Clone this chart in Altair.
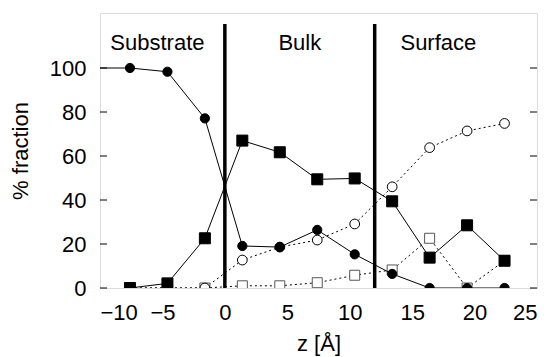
import altair as alt
import pandas as pd

# data
z = [-7.6, -4.6, -1.6, 1.4, 4.4, 7.4, 10.4, 13.4, 16.4, 19.4, 22.4]
filled_circle = [100, 98.3, 77.1, 19.1, 18.6, 26.4, 15.3, 6.4, 0, 0, 0]
filled_square = [0, 2.1, 22.6, 67.0, 61.7, 49.4, 49.8, 39.4, 13.8, 28.5, 12.4]
open_circle = [0, 0, 0, 12.7, 18.6, 21.8, 29.1, 46.0, 63.8, 71.4, 74.8]
open_square = [0, 0, 0, 1.0, 1.0, 2.4, 5.8, 8.2, 22.6, 0, 12.4]
# the filled-circle curve enters from beyond the left edge
z_lead = [-10.6]
filled_circle_lead = [100]

boundaries = [0, 12]
boundary_top = 120
region_names = ["Substrate", "Bulk", "Surface"]
region_z = [-5.4, 6.0, 17.1]
region_y = [111.5, 111.5, 111.5]

y_ticks = [0, 20, 40, 60, 80, 100]
x_ticks = [-10, -5, 0, 5, 10, 15, 20, 25]

W, H = 437, 275
FONT = "Liberation Sans"

xs = alt.Scale(domain=[-10, 25], nice=False, zero=False)
ys = alt.Scale(domain=[0, 125], nice=False)

def frame(vals, zz):
    return pd.DataFrame({"z": zz, "v": vals})

df_fc = pd.DataFrame({"z": z_lead + z, "v": filled_circle_lead + filled_circle})
df_fc_pts = frame(filled_circle, z)
df_fs = frame(filled_square, z)
df_oc = frame(open_circle, z)
df_os = frame(open_square, z)

X = alt.X("z:Q", scale=xs, axis=alt.Axis(values=x_ticks, title="z [Å]", grid=False, ticks=False,
                                       domain=False, labelFont=FONT, labelFontSize=22, labelColor="black",
                                       labelPadding=14, titleFont=FONT, titleFontSize=22,
                                       titleFontWeight="normal", titleColor="black",
                                       titleY=55, titleBaseline="middle"))
Y = alt.Y("v:Q", scale=ys, axis=alt.Axis(values=y_ticks, title="% fraction", grid=False, ticks=False,
                                       domain=False, labelFont=FONT, labelFontSize=22, labelColor="black",
                                       labelPadding=14, titleFont=FONT, titleFontSize=22,
                                       titleFontWeight="normal", titleColor="black",
                                       titleX=-80, titleBaseline="middle"))

def line(df, dash=None):
    kw = dict(color="black", strokeWidth=1, clip=True)
    if dash:
        kw["strokeDash"] = dash
    return alt.Chart(df).mark_line(**kw).encode(x=X, y=Y)

def pts(df, shape, filled, size, stroke="black"):
    return alt.Chart(df).mark_point(shape=shape, filled=filled, size=size, opacity=1,
                                    fill="black" if filled else "white",
                                    stroke=stroke, strokeWidth=1, clip=True).encode(x=X, y=Y)

ytick_df = pd.DataFrame({"v": y_ticks})
ticks_left = alt.Chart(ytick_df).mark_rule(color="black", strokeWidth=1).encode(
    y=alt.Y("v:Q", scale=ys), x=alt.value(0), x2=alt.value(7))
ticks_right = alt.Chart(ytick_df).mark_rule(color="black", strokeWidth=1).encode(
    y=alt.Y("v:Q", scale=ys), x=alt.value(W - 7), x2=alt.value(W))

bdf = pd.DataFrame({"z": boundaries, "top": [boundary_top] * len(boundaries), "bot": [0] * len(boundaries)})
bounds = alt.Chart(bdf).mark_rule(color="black", strokeWidth=3.5).encode(
    x=alt.X("z:Q", scale=xs), y=alt.Y("bot:Q", scale=ys), y2="top:Q")

ldf = pd.DataFrame({"z": region_z, "v": region_y, "name": region_names})
labels = alt.Chart(ldf).mark_text(font=FONT, fontSize=22, color="black", align="center",
                                  baseline="middle").encode(
    x=alt.X("z:Q", scale=xs), y=alt.Y("v:Q", scale=ys), text="name:N")

chart = alt.layer(
    line(df_oc, [2, 3]), line(df_os, [2, 3]),
    pts(df_os, "square", False, 100, stroke="#555555"),
    pts(df_oc, "circle", False, 95),
    line(df_fs), line(df_fc),
    pts(df_fs, "square", True, 121),
    pts(df_fc_pts, "circle", True, 85),
    bounds, ticks_left, ticks_right, labels,
).properties(
    width=W, height=H,
    autosize=alt.AutoSizeParams(type="none"),
    padding={"left": 92, "top": 5, "right": 5, "bottom": 72},
).configure_view(stroke="black", strokeWidth=1.2).configure(background="white")

chart.save("out.html", embed_options={"renderer": "svg", "actions": False})
